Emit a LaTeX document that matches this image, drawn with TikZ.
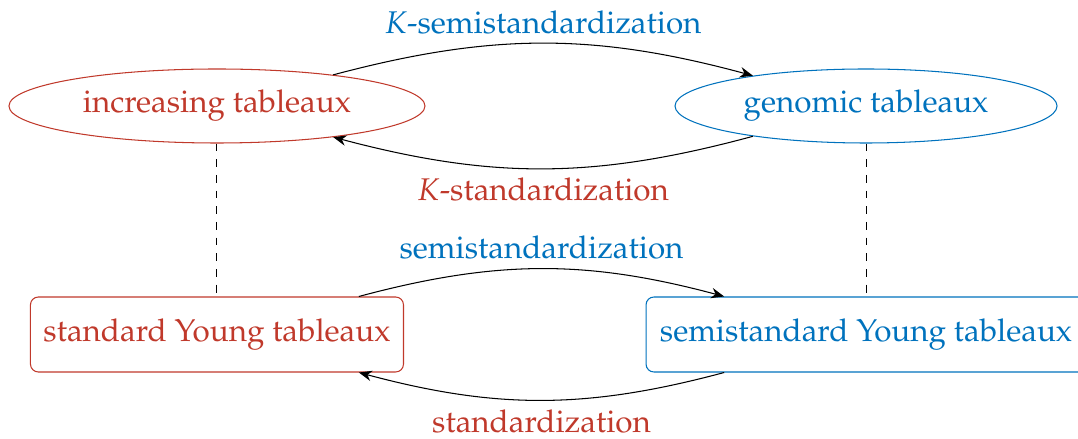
\documentclass[tikz,border=0pt]{standalone}
\usepackage[T1]{fontenc}
\usepackage{mathpazo}
\usetikzlibrary{arrows.meta,shapes.geometric}
\definecolor{kred}{RGB}{192,57,43}
\definecolor{kblue}{RGB}{0,114,189}
\begin{document}
\begin{tikzpicture}[font=\large,
    oval/.style={shape=ellipse,draw,minimum height=0.995cm},
    box/.style={shape=rectangle,draw,rounded corners=3pt,minimum height=1.008cm},
    map/.style={-{Stealth[length=5pt,width=4pt]},bend left=15}]
\useasboundingbox (0,0) rectangle (14.493,-5.902);
\node[oval,kred,minimum width=5.593cm] (inc) at (2.917,-1.425) {increasing tableaux};
\node[oval,kblue,minimum width=5.136cm] (gen) at (11.643,-1.425) {genomic tableaux};
\node[box,kred,minimum width=5.015cm] (syt) at (2.917,-4.497) {standard Young tableaux};
\node[box,kblue,minimum width=5.915cm] (ssyt) at (11.643,-4.497) {semistandard Young tableaux};
%\draw (inc) -- (syt);
\draw[dashed] (inc.south) -- (syt.north);
\draw[dashed] (gen.south) -- (ssyt.north);
\draw[map] (inc.15) to node[midway,above,kblue] {$K$-semistandardization} (gen.165);
\draw[map] (gen.195) to node[midway,below,kred] {$K$-standardization} (inc.345);
\draw[map] (syt.15) to node[midway,above,kblue] {semistandardization} (ssyt.165);
\draw[map] (ssyt.195) to node[midway,below,kred] {standardization} (syt.345);
\end{tikzpicture}
\end{document}
